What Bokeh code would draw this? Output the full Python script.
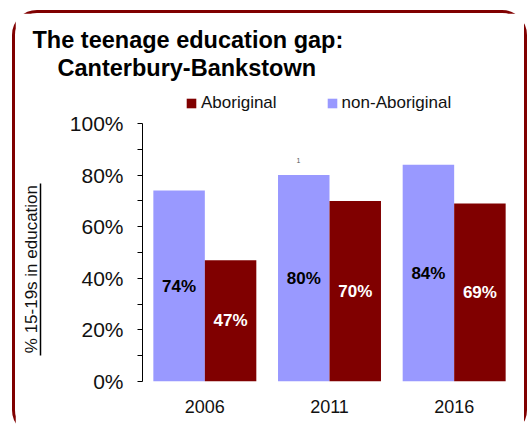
from bokeh.plotting import figure
from bokeh.models import (ColumnDataSource, FactorRange, FixedTicker, Label,
                          Legend, LegendItem, LinearAxis, Title, Range1d)
from bokeh.transform import dodge
from bokeh.core.properties import value
from bokeh.embed import file_html
from bokeh.resources import INLINE

# ---- data ----
years = ["2006", "2011", "2016"]
aboriginal = [47, 70, 69]
non_aboriginal = [74, 80, 84]
series_names = ["Aboriginal", "non-Aboriginal"]
y_ticks = [0, 20, 40, 60, 80, 100]
y_tick_labels = ["0%", "20%", "40%", "60%", "80%", "100%"]
y_minor_ticks = [10, 30, 50, 70, 90]
title_lines = ["The teenage education gap:", "Canterbury-Bankstown"]
y_label = "% 15-19s in education"
footnote_mark = "1"

# ---- style ----
FONT = "Liberation Sans"
C_AB = "#800000"
C_NON = "#9999FF"
BW = 0.413
Y_TOP = 116.67   # frame extends above 100% to hold the legend

src = ColumnDataSource(dict(
    year=years,
    ab=aboriginal,
    non=non_aboriginal,
    ab_mid=[v / 2 for v in aboriginal],
    non_mid=[v / 2 for v in non_aboriginal],
    ab_lbl=[f"{v}%" for v in aboriginal],
    non_lbl=[f"{v}%" for v in non_aboriginal],
))

p = figure(width=509, height=419, x_range=FactorRange(*years),
           y_range=Range1d(0, Y_TOP),
           output_backend="svg", toolbar_location=None,
           min_border_left=127, min_border_right=8,
           min_border_top=67, min_border_bottom=51)
p.title = None
p.styles = {"margin-left": "15px", "margin-top": "13px",
            "outline": "3px solid #800000", "border-radius": "22px"}
p.outline_line_color = None
p.xgrid.visible = False
p.ygrid.visible = False
p.background_fill_color = "white"
p.border_fill_color = "white"

r_non = p.vbar(x=dodge("year", -BW / 2, range=p.x_range), top="non", width=BW,
               source=src, fill_color=C_NON, line_color=None)
r_ab = p.vbar(x=dodge("year", BW / 2, range=p.x_range), top="ab", width=BW,
              source=src, fill_color=C_AB, line_color=None)

p.text(x=dodge("year", -BW / 2, range=p.x_range), y="non_mid", text="non_lbl",
       source=src, text_align="center", text_baseline="middle",
       text_font=value(FONT), text_font_style="bold", text_font_size="17px",
       text_color="black")
p.text(x=dodge("year", BW / 2, range=p.x_range), y="ab_mid", text="ab_lbl",
       source=src, text_align="center", text_baseline="middle",
       text_font=value(FONT), text_font_style="bold", text_font_size="17px",
       text_color="white")

# y axis
ya = p.yaxis[0]
ya.bounds = (0, 100)
ya.ticker = FixedTicker(ticks=y_ticks, minor_ticks=y_minor_ticks)
ya.major_label_overrides = {t: l for t, l in zip(y_ticks, y_tick_labels)}
ya.major_tick_in = 0
ya.major_tick_out = 5
ya.minor_tick_in = 0
ya.minor_tick_out = 5
ya.major_label_standoff = 14
ya.major_label_text_font = FONT
ya.major_label_text_font_size = "21px"
ya.major_label_text_color = "#111111"
ya.axis_line_color = "black"
ya.major_tick_line_color = "black"
ya.minor_tick_line_color = "black"
# blank spacer label to push the underline out
ya.axis_label = " "
ya.axis_label_text_font_size = "10px"
ya.axis_label_standoff = 12

# underline of the y title (an axis line limited by bounds)
ul = LinearAxis(ticker=FixedTicker(ticks=[]), bounds=(10.1, 76.7),
                major_tick_out=0, major_tick_in=0, minor_tick_out=0,
                minor_tick_in=0, major_label_standoff=0,
                axis_line_color="black", axis_line_width=1.5)
p.add_layout(ul, "left")

# y title
p.add_layout(Title(text=y_label, align="left", offset=28.3, standoff=0,
                   text_font=FONT, text_font_style="normal",
                   text_font_size="17px", text_color="#111111"), "left")

# x axis
xa = p.xaxis[0]
xa.axis_line_color = None
xa.major_tick_line_color = None
xa.minor_tick_line_color = None
xa.major_label_standoff = 12
xa.major_label_text_font = FONT
xa.major_label_text_font_size = "18px"
xa.major_label_text_color = "#111111"

# legend (inside the extended frame, above 100%)
legend = Legend(items=[LegendItem(label=series_names[0], renderers=[r_ab]),
                       LegendItem(label=series_names[1], renderers=[r_non])],
                location=(43, 268), orientation="horizontal",
                glyph_width=12, glyph_height=12, label_height=12,
                label_standoff=4, spacing=49,
                padding=0, margin=0, border_line_color=None,
                background_fill_alpha=0, label_text_font=FONT,
                label_text_font_size="17px", label_text_color="#111111")
p.add_layout(legend)

# titles
p.add_layout(Title(text=title_lines[1], align="left", offset=-85, standoff=0,
                   text_font=FONT, text_font_style="bold",
                   text_font_size="23.5px", text_color="black"), "above")
p.add_layout(Title(text=title_lines[0], align="left", offset=-110, standoff=0,
                   text_font=FONT, text_font_style="bold",
                   text_font_size="23.5px", text_color="black"), "above")

# footnote mark
p.add_layout(Label(x=1.25, y=85.7, text=footnote_mark, text_font=FONT,
                   text_font_size="7px", text_align="center",
                   text_baseline="middle", text_color="#555555"))

open("out.html", "w").write(file_html(p, INLINE))
